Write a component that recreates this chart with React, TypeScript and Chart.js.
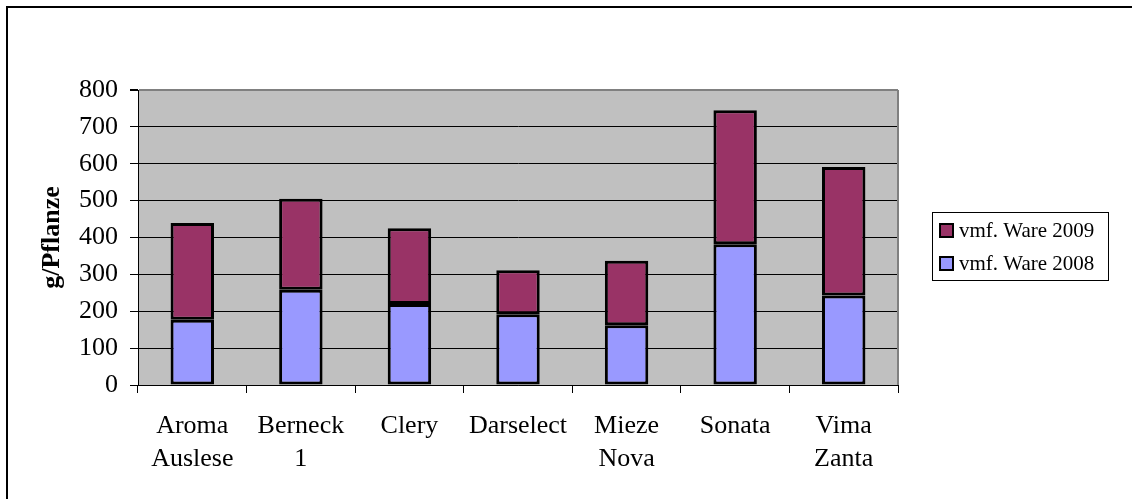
import React, { useEffect, useRef } from "react";
import { Chart, registerables } from "chart.js";

Chart.register(...registerables);

const categories: (string | string[])[] = [
  ["Aroma", "Auslese"],
  ["Berneck", "1"],
  "Clery",
  "Darselect",
  ["Mieze", "Nova"],
  "Sonata",
  ["Vima", "Zanta"],
];
const ware2008 = [177, 258, 220, 192, 162, 382, 243];
const ware2009 = [262, 247, 205, 119, 175, 363, 348];
const yTicks = [0, 100, 200, 300, 400, 500, 600, 700, 800];

const FONT = '"Liberation Serif", "Times New Roman", serif';

const framePlugin = {
  id: "frame",
  beforeDraw(chart: any) {
    const { ctx, chartArea } = chart;
    ctx.save();
    ctx.fillStyle = "#ffffff";
    ctx.fillRect(0, 0, chart.width, chart.height);
    ctx.fillStyle = "#C0C0C0";
    ctx.fillRect(chartArea.left, chartArea.top, chartArea.right - chartArea.left, chartArea.bottom - chartArea.top);
    ctx.strokeStyle = "#000";
    ctx.lineWidth = 2;
    ctx.beginPath();
    ctx.moveTo(7, chart.height);
    ctx.lineTo(7, 7);
    ctx.lineTo(chart.width, 7);
    ctx.stroke();
    ctx.restore();
  },
  beforeDatasetsDraw(chart: any) {
    const { ctx, chartArea } = chart;
    ctx.save();
    ctx.strokeStyle = "#808080";
    ctx.lineWidth = 2;
    ctx.beginPath();
    ctx.moveTo(chartArea.right, chartArea.bottom);
    ctx.lineTo(chartArea.right, chartArea.top);
    ctx.stroke();
    ctx.restore();
  },
  afterDraw(chart: any) {
    const { ctx } = chart;
    const ds = chart.data.datasets;
    ctx.save();
    ctx.strokeStyle = "#000";
    ctx.lineWidth = 1;
    ctx.strokeRect(932.5, 212.5, 176, 68);
    const items = [ds[1], ds[0]];
    const ys = [230, 263];
    ctx.font = `21px ${FONT}`;
    ctx.textBaseline = "middle";
    ctx.textAlign = "left";
    items.forEach((d: any, i: number) => {
      const y = ys[i];
      ctx.fillStyle = d.backgroundColor;
      ctx.fillRect(939, y - 7, 14, 14);
      ctx.lineWidth = 2;
      ctx.strokeStyle = "#000";
      ctx.strokeRect(940, y - 6, 13, 13);
      ctx.fillStyle = "#000";
      ctx.fillText(d.label, 959, y + 1);
    });
    ctx.restore();
  },
};

export default function App() {
  const ref = useRef<HTMLCanvasElement | null>(null);
  useEffect(() => {
    if (!ref.current) return;
    const chart = new Chart(ref.current, {
      type: "bar",
      data: {
        labels: categories,
        datasets: [
          {
            label: "vmf. Ware 2008",
            data: ware2008,
            backgroundColor: "#9999FF",
            borderColor: "#000",
            borderWidth: 3,
            borderSkipped: false,
            categoryPercentage: 1,
            barPercentage: 0.4,
          },
          {
            label: "vmf. Ware 2009",
            data: ware2009,
            backgroundColor: "#993366",
            borderColor: "#000",
            borderWidth: 3,
            borderSkipped: false,
            categoryPercentage: 1,
            barPercentage: 0.4,
          },
        ],
      },
      options: {
        responsive: false,
        animation: false,
        layout: { padding: { left: 0, top: 90, right: 234, bottom: 0 } },
        plugins: { legend: { display: false }, tooltip: { enabled: false } },
        scales: {
          x: {
            stacked: true,
            offset: true,
            grid: {
              offset: true,
              drawOnChartArea: false,
              drawTicks: true,
              tickLength: 8,
              tickColor: "#000",
              color: "#000",
            },
            border: { display: true, color: "#000", width: 1 },
            ticks: {
              color: "#000",
              font: { family: FONT, size: 26, lineHeight: 1.27 },
              padding: 17,
              maxRotation: 0,
              autoSkip: false,
            },
            afterFit(scale: any) {
              scale.height = 114;
            },
          },
          y: {
            stacked: true,
            min: 0,
            max: 800,
            afterBuildTicks(scale: any) {
              scale.ticks = yTicks.map((v) => ({ value: v }));
            },
            grid: {
              color: (c: any) => (c.tick && c.tick.value === 800 ? "#808080" : "#000"),
              lineWidth: (c: any) => (c.tick && c.tick.value === 800 ? 2 : 1),
              tickColor: "#000",
              tickLength: 8,
            },
            border: { display: true, color: "#000", width: 1 },
            ticks: {
              color: "#000",
              font: { family: FONT, size: 26 },
              padding: 12,
            },
            title: {
              display: true,
              text: "g/Pflanze",
              color: "#000",
              font: { family: FONT, size: 26, weight: "bold", lineHeight: 1.2 },
              padding: { top: 37, bottom: 0 },
            },
            afterFit(scale: any) {
              scale.width = 138;
            },
          },
        },
      },
      plugins: [framePlugin],
    });
    return () => chart.destroy();
  }, []);
  return (
    <div style={{ position: "absolute", left: 0, top: 0, width: 1132, height: 499 }}>
      <canvas ref={ref} width={1132} height={499} style={{ display: "block" }} />
    </div>
  );
}
